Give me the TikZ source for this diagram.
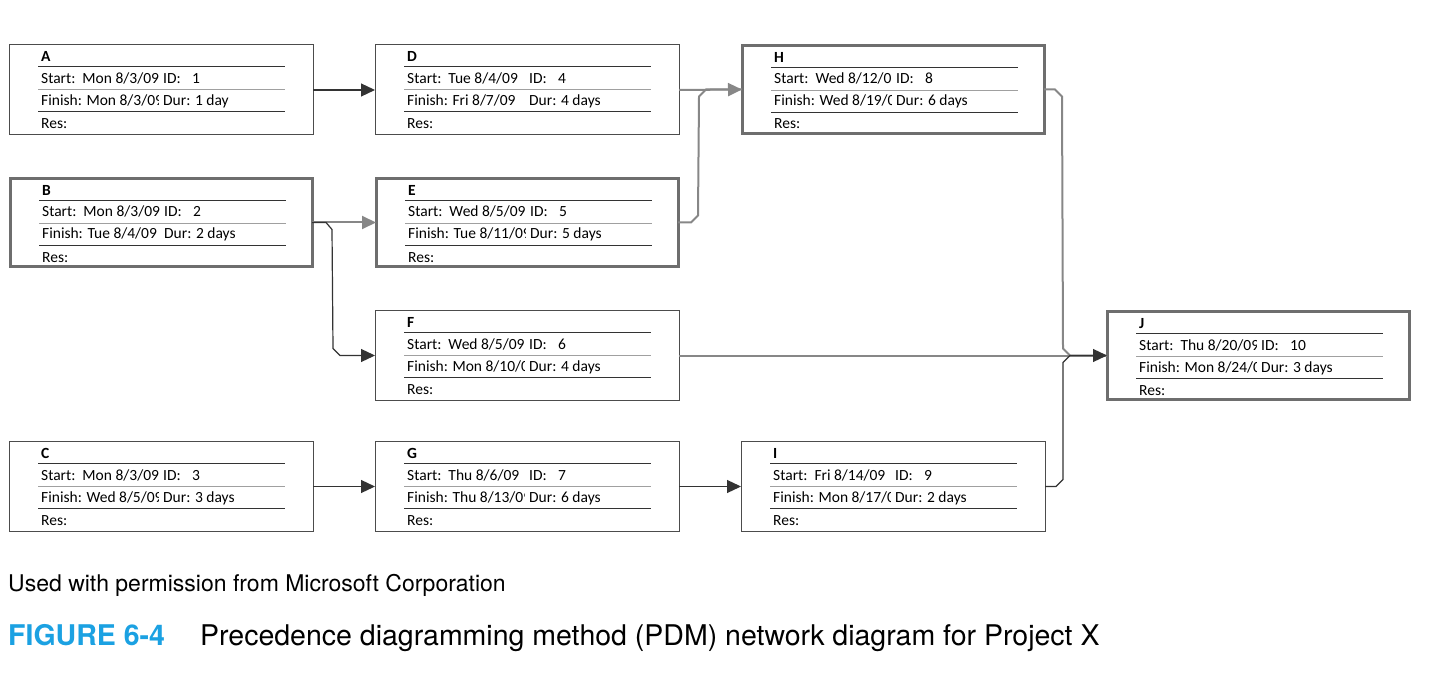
\documentclass[tikz,border=0pt]{standalone}
\usepackage{fontspec}
\setmainfont{Carlito}
\newfontfamily\capfont{TeX Gyre Heros}
\usetikzlibrary{arrows.meta}
\definecolor{critgray}{RGB}{110,110,110}
\definecolor{linkgray}{RGB}{135,135,135}
\definecolor{rowgray}{RGB}{160,160,160}
\definecolor{figblue}{RGB}{27,161,226}
\begin{document}
\begin{tikzpicture}[x=1pt,y=-1pt,
	box/.style={minimum width=304pt,minimum height=90pt,inner sep=0pt,outer sep=0pt},
	reg/.style={draw=black!70,line width=1pt},
	crit/.style={draw=critgray,line width=3pt,minimum width=302pt,minimum height=88pt},
	txt/.style={anchor=base west,inner sep=0pt,font=\fontsize{15.5}{17}\selectfont},
	link/.style={draw=black!80,line width=1.2pt},
	critlink/.style={draw=linkgray,line width=2pt},
	tip/.style={-{Triangle[length=14pt,width=13pt]}},
	captxt/.style={anchor=base west,inner sep=0pt}]
\useasboundingbox (0,0) rectangle (1442,676);
% task boxes
\foreach \n/\x/\y/\s/\tst/\tid/\tfn/\tdu in {
	A/161/90/reg/{Mon 8/3/09}/1/{Mon 8/3/09}/{1 day},
	B/161/222.5/crit/{Mon 8/3/09}/2/{Tue 8/4/09}/{2 days},
	C/161/486.5/reg/{Mon 8/3/09}/3/{Wed 8/5/09}/{3 days},
	D/527/90/reg/{Tue 8/4/09}/4/{Fri 8/7/09}/{4 days},
	E/527/222.5/crit/{Wed 8/5/09}/5/{Tue 8/11/09}/{5 days},
	F/527/355.5/reg/{Wed 8/5/09}/6/{Mon 8/10/09}/{4 days},
	G/527/486.5/reg/{Thu 8/6/09}/7/{Thu 8/13/09}/{6 days},
	H/893/89.5/crit/{Wed 8/12/09}/8/{Wed 8/19/09}/{6 days},
	I/893/486.5/reg/{Fri 8/14/09}/9/{Mon 8/17/09}/{2 days},
	J/1258/355.5/crit/{Thu 8/20/09}/10/{Mon 8/24/09}/{3 days}}
{
	\node[box,\s] (\n) at (\x,\y) {};
	\draw[black!80,line width=1pt]
	([shift={(29,22)}]\n.north west)--++(247,0)
	([shift={(29,67)}]\n.north west)--++(247,0);
	\draw[rowgray,line width=1pt]
	([shift={(29,45)}]\n.north west)--++(247,0);
	\path ([shift={(32,17)}]\n.north west)
	node[txt,font=\fontsize{15.5}{17}\selectfont\bfseries]{\n};
	\begin{scope}
	\clip ([shift={(20,25)}]\n.north west) rectangle
	([shift={(149,65)}]\n.north west);
	\path ([shift={(32,38.5)}]\n.north west)
	node[txt]{\makebox[116pt][l]{Start:\ \ \tst}}
	([shift={(32,60.5)}]\n.north west)
	node[txt]{\makebox[116pt][l]{Finish: \tfn}};
	\end{scope}
	\path ([shift={(154,38.5)}]\n.north west) node[txt]{ID:}
	([shift={(183,38.5)}]\n.north west) node[txt]{\tid}
	([shift={(154,60.5)}]\n.north west) node[txt]{Dur: \tdu}
	([shift={(32,83.5)}]\n.north west) node[txt]{Res:};
}
% lanes
\coordinate (laneEH) at (699,0);
\coordinate (laneBF) at (333,0);
\coordinate (laneJ) at (1063,0);
% critical links
\draw[critlink,tip] (D.east)--(H.west);
\draw[critlink] (E.east)--++(13,0)--++(7,-7)
	--([shift={(0,7)}]H.west-|laneEH)--++(7,-7)--(H.west);
\draw[critlink,tip] (B.east)--(E.west);
\draw[critlink] (H.east)--++(11,0)--++(7,7)
	--([shift={(0,-7)}]J.west-|laneJ)--++(7,7)--(J.west);
\draw[critlink] (F.east)--(J.west);
% other links
\draw[link,tip] (A.east)--(D.west);
\draw[link,tip] (B.east)--++(14,0)--++(6,7)
	--([shift={(0,-7)}]F.west-|laneBF)--++(7,7)--(F.west);
\draw[link,tip] (C.east)--(G.west);
\draw[link,tip] (G.east)--(I.west);
\draw[link,tip] (I.east)--++(11,0)--++(7,-7)
	--([shift={(0,7)}]J.west-|laneJ)--++(7,-7)--(J.west);
% caption
\node[captxt,font=\capfont\fontsize{23}{26}\selectfont] (src) at (8,591)
	{Used with permission from Microsoft Corporation};
\node[captxt,font=\capfont\fontsize{28.5}{31}\selectfont\bfseries,text=figblue]
	(fig) at (8,645) {FIGURE 6-4};
\node[captxt,font=\capfont\fontsize{28.5}{31}\selectfont] (ttl) at (200,645)
	{Precedence diagramming method (PDM) network diagram for Project X};
\end{tikzpicture}
\end{document}
